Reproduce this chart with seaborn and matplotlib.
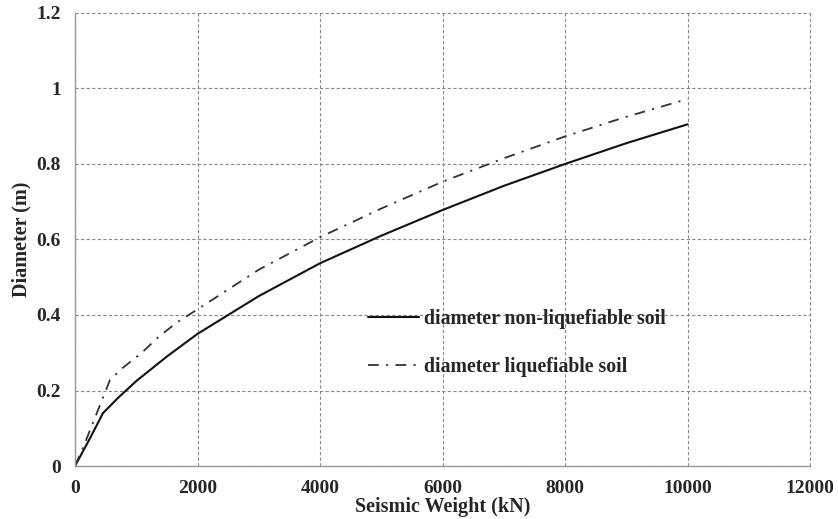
import matplotlib
matplotlib.use("Agg")
import matplotlib.pyplot as plt
import seaborn as sns
import pandas as pd

# Data
weight_nonliq = [0, 250, 456, 700, 1000, 1500, 2000, 3000, 4000, 5000, 6000, 7000, 8000, 9000, 10000]
diam_nonliq = [0, 0.075, 0.14, 0.18, 0.225, 0.29, 0.35, 0.45, 0.537, 0.61, 0.678, 0.742, 0.80, 0.855, 0.905]

weight_liq = [0, 160, 571, 780, 1090, 1350, 1660, 2000, 3000, 4000, 5000, 6000, 7000, 8000, 9000, 10000]
diam_liq = [0, 0.06, 0.228, 0.26, 0.30, 0.34, 0.38, 0.415, 0.52, 0.606, 0.682, 0.753, 0.815, 0.873, 0.925, 0.972]

label_nonliq = "diameter non-liquefiable soil"
label_liq = "diameter liquefiable soil"

x_ticks = [0, 2000, 4000, 6000, 8000, 10000, 12000]
y_ticks = [0, 0.2, 0.4, 0.6, 0.8, 1.0, 1.2]
y_tick_labels = ["0", "0.2", "0.4", "0.6", "0.8", "1", "1.2"]

df = pd.concat([
    pd.DataFrame({"w": weight_nonliq, "d": diam_nonliq, "s": label_nonliq}),
    pd.DataFrame({"w": weight_liq, "d": diam_liq, "s": label_liq}),
])

sns.set_style("white")
plt.rcParams["font.family"] = ["Liberation Serif", "DejaVu Serif"]
plt.rcParams["font.weight"] = "bold"

fig = plt.figure(figsize=(8.38, 5.19), dpi=100)
ax = fig.add_axes([0.0895, 0.1021, 0.8771, 0.8729])

sns.lineplot(data=df, x="w", y="d", hue="s", sort=False, estimator=None,
             palette={label_nonliq: "#111111", label_liq: "#333333"},
             ax=ax, legend=False)
lines = ax.get_lines()
lines[0].set_linewidth(1.5)
lines[1].set_linewidth(1.3)
lines[1].set_linestyle((0, (6, 4, 1.2, 4)))

ax.set_xlim(0, 12000)
ax.set_ylim(0, 1.2)
ax.set_xticks(x_ticks)
ax.set_yticks(y_ticks)
ax.set_yticklabels(y_tick_labels)
ax.tick_params(length=0, labelsize=14, pad=10)
for t in ax.get_xticklabels() + ax.get_yticklabels():
    t.set_fontweight("bold")

ax.grid(True, linestyle=(0, (3, 2)), color="#8a8a8a", linewidth=0.8)
for gl in ax.get_xgridlines() + ax.get_ygridlines():
    gl.set_clip_on(False)
ax.set_axisbelow(True)

for s in ["top", "right"]:
    ax.spines[s].set_visible(False)
for s in ["left", "bottom"]:
    ax.spines[s].set_color("#999999")
    ax.spines[s].set_linewidth(1.0)

ax.set_xlabel("Seismic Weight (kN)", fontsize=14.5, fontweight="bold", labelpad=0)
ax.set_ylabel("Diameter (m)", fontsize=14.5, fontweight="bold", labelpad=4)

leg = ax.legend(handles=lines, labels=[label_nonliq, label_liq],
                loc="upper left", bbox_to_anchor=(0.374, 0.385), frameon=False,
                fontsize=14.2, handlelength=2.6, handletextpad=0.25, labelspacing=1.4)
for t in leg.get_texts():
    t.set_fontweight("bold")

fig.savefig("out.png", dpi=100)
